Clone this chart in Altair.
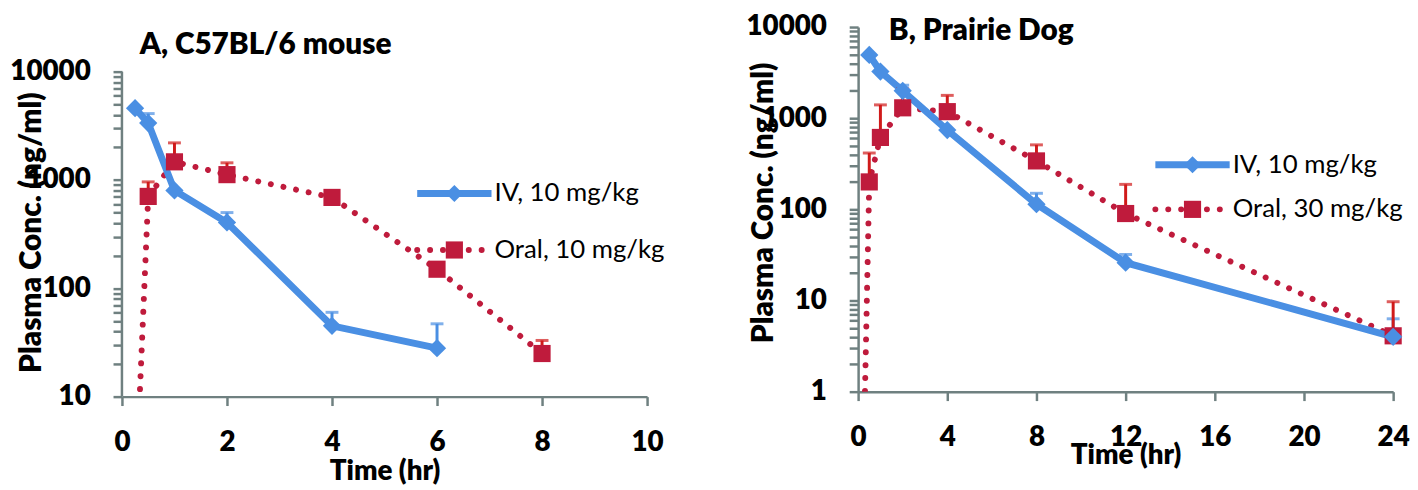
import altair as alt
import pandas as pd

FONT = "Lato"
AX = "#6F8080"
BLUE = "#4A8FE3"
RED = "#BF1B3C"
RED_ERR = "#D01A1A"
HEAVY = 800

# ---------------- Panel A : C57BL/6 mouse ----------------
A_TITLE = "A, C57BL/6 mouse"
A_IV_T = [0.25, 0.5, 1, 2, 4, 6]
A_IV_C = [4600, 3350, 800, 405, 45, 28]
A_IV_ERR_T = [0.5, 2, 4, 6]
A_IV_ERR_UP = [4100, 500, 60, 47]
A_ORAL_T = [0.5, 1, 2, 4, 6, 8]
A_ORAL_C = [705, 1470, 1120, 690, 150, 25]
A_ORAL_ERR_T = [0.5, 1, 2, 8]
A_ORAL_ERR_UP = [960, 2200, 1440, 33]
A_ORAL_T0 = [0.25]
A_ORAL_C0 = [1.0]
A_LEGEND = ["IV, 10 mg/kg", "Oral, 10 mg/kg"]
A_X_TICKS = [0, 2, 4, 6, 8, 10]
A_Y_MAJOR = [10, 100, 1000, 10000]

# ---------------- Panel B : Prairie Dog ----------------
B_TITLE = "B, Prairie Dog"
B_IV_T = [0.5, 1, 2, 4, 8, 12, 24]
B_IV_C = [4950, 3250, 2000, 740, 114, 26, 4.0]
B_IV_ERR_T = [2, 8, 12, 24]
B_IV_ERR_UP = [2300, 150, 32, 6.3]
B_ORAL_T = [0.5, 1, 2, 4, 8, 12, 24]
B_ORAL_C = [200, 615, 1300, 1180, 340, 90, 4.1]
B_ORAL_ERR_T = [0.5, 1, 2, 4, 8, 12, 24]
B_ORAL_ERR_UP = [415, 1400, 2100, 1780, 510, 188, 9.7]
B_ORAL_T0 = [0.25]
B_ORAL_C0 = [0.2]
B_LEGEND = ["IV, 10 mg/kg", "Oral, 30 mg/kg"]
B_X_TICKS = [0, 4, 8, 12, 16, 20, 24]
B_Y_MAJOR = [1, 10, 100, 1000, 10000]

Y_TITLE = "Plasma Conc. (ng/ml)"
X_TITLE = "Time (hr)"


def minor_ticks(majors):
    vals = []
    for m in majors[:-1]:
        vals += [m * k for k in range(1, 10)]
    vals.append(majors[-1])
    return vals


def panel(p):
    xscale = alt.Scale(domain=p["xdom"], nice=False, zero=False)
    yscale = alt.Scale(type="log", domain=p["ydom"], nice=False)
    majors_str = "[" + ",".join("'%d'" % v for v in p["ymajor"]) + "]"
    xaxis = alt.Axis(
        values=p["xticks"], format="d", grid=False,
        labelFont=FONT, labelFontSize=28, labelFontWeight=HEAVY, labelColor="black",
        labelPadding=23, labelFlush=False, labelOverlap=False,
        tickSize=9, tickColor=AX, tickWidth=2.5,
        domainColor=AX, domainWidth=2.5,
        title=X_TITLE, titleFont=FONT, titleFontSize=28, titleFontWeight=HEAVY,
        titleColor="black", titlePadding=p["xtitlepad"],
    )
    yaxis = alt.Axis(
        values=minor_ticks(p["ymajor"]), format="d", grid=False,
        labelExpr="indexof(" + majors_str + ", datum.label) >= 0 ? datum.label : ''",
        labelFont=FONT, labelFontSize=28, labelFontWeight=HEAVY, labelColor="black",
        labelPadding=23, labelOverlap=False, labelFlush=False,
        tickSize=9, tickColor=AX, tickWidth=2.5,
        domain=p["ydomainline"], domainColor=AX, domainWidth=2.5,
        title=Y_TITLE, titleFont=FONT, titleFontSize=30, titleFontWeight=HEAVY,
        titleColor="black", titleX=p["ytitlex"], titleY=p["ytitley"],
    )

    def X(f):
        return alt.X(f, type="quantitative", scale=xscale, axis=xaxis)

    def Y(f):
        return alt.Y(f, type="quantitative", scale=yscale, axis=yaxis)

    iv = pd.DataFrame({"t": p["iv_t"], "c": p["iv_c"]})
    oral = pd.DataFrame({"t": p["oral_t"], "c": p["oral_c"]})
    oral_line = pd.DataFrame({"t": p["oral_t0"] + p["oral_t"], "c": p["oral_c0"] + p["oral_c"]})
    iv_err = pd.DataFrame({"t": p["iv_err_t"], "c": [dict(zip(p["iv_t"], p["iv_c"]))[t] for t in p["iv_err_t"]],
                           "up": p["iv_err_up"]})
    oral_err = pd.DataFrame({"t": p["oral_err_t"],
                             "c": [dict(zip(p["oral_t"], p["oral_c"]))[t] for t in p["oral_err_t"]],
                             "up": p["oral_err_up"]})

    layers = []
    layers.append(alt.Chart(oral_line).mark_line(
        color=RED, strokeWidth=6, strokeDash=[0.01, 13], strokeCap="round", clip=True
    ).encode(x=X("t"), y=Y("c")))
    layers.append(alt.Chart(iv).mark_line(color=BLUE, strokeWidth=7, clip=True).encode(x=X("t"), y=Y("c")))
    for df, col in ((iv_err, BLUE), (oral_err, RED_ERR)):
        layers.append(alt.Chart(df).mark_rule(color=col, strokeWidth=3).encode(
            x=X("t"), y=Y("c"), y2=alt.Y2("up")))
        layers.append(alt.Chart(df).mark_tick(color=col, orient="horizontal", size=13, thickness=3).encode(
            x=X("t"), y=Y("up")))
    layers.append(alt.Chart(oral).mark_point(shape="square", filled=True, size=300, color=RED, opacity=1,
                                             strokeWidth=0).encode(x=X("t"), y=Y("c")))
    layers.append(alt.Chart(iv).mark_point(shape="diamond", filled=True, size=340, color=BLUE, opacity=1,
                                           strokeWidth=0).encode(x=X("t"), y=Y("c")))

    if p.get("axisline") is not None:
        lo, hi = p["axisline"]
        layers.append(alt.Chart(pd.DataFrame({"c": [lo], "c2": [hi]})).mark_rule(
            color=AX, strokeWidth=2.5).encode(x=alt.value(0), y=Y("c"), y2=alt.Y2("c2")))

    # legend (inside plot, Excel style)
    lx0, lx1, tx = p["leg_x"]
    for i, lab in enumerate(p["legend"]):
        ly = p["leg_y"][i]
        d = pd.DataFrame({"label": [lab]})
        if i == 0:
            layers.append(alt.Chart(d).mark_rule(color=BLUE, strokeWidth=7).encode(
                x=alt.value(lx0), x2=alt.value(lx1), y=alt.value(ly)))
            layers.append(alt.Chart(d).mark_point(shape="diamond", filled=True, size=300, color=BLUE,
                                                  opacity=1, strokeWidth=0).encode(
                x=alt.value((lx0 + lx1) / 2), y=alt.value(ly)))
        else:
            layers.append(alt.Chart(d).mark_rule(color=RED, strokeWidth=6, strokeDash=[0.01, 13],
                                                 strokeCap="round").encode(
                x=alt.value(lx0), x2=alt.value(lx1), y=alt.value(ly)))
            layers.append(alt.Chart(d).mark_point(shape="square", filled=True, size=300, color=RED,
                                                  opacity=1, strokeWidth=0).encode(
                x=alt.value((lx0 + lx1) / 2), y=alt.value(ly)))
        layers.append(alt.Chart(d).mark_text(font=FONT, fontSize=26, align="left", baseline="middle",
                                             color="black").encode(
            x=alt.value(tx), y=alt.value(ly), text="label:N"))

    # panel title
    layers.append(alt.Chart(pd.DataFrame({"title": [p["title"]]})).mark_text(
        font=FONT, fontSize=30, fontWeight=HEAVY, align="left", baseline="alphabetic", color="black"
    ).encode(x=alt.value(p["title_xy"][0]), y=alt.value(p["title_xy"][1]), text="title:N"))

    return alt.layer(*layers).properties(width=p["w"], height=p["h"])


A_H = 373
A_PX_PER_DEC = 328 / 3.0
A_YTOP = 10 ** (1 + A_H / A_PX_PER_DEC)

pa = dict(
    title=A_TITLE, iv_t=A_IV_T, iv_c=A_IV_C, iv_err_t=A_IV_ERR_T, iv_err_up=A_IV_ERR_UP,
    oral_t=A_ORAL_T, oral_c=A_ORAL_C, oral_err_t=A_ORAL_ERR_T, oral_err_up=A_ORAL_ERR_UP,
    oral_t0=A_ORAL_T0, oral_c0=A_ORAL_C0, legend=A_LEGEND,
    xdom=[0, 10], xticks=A_X_TICKS, ymajor=A_Y_MAJOR, ydom=[10, A_YTOP],
    ydomainline=False, axisline=(10, 10000),
    ytitlex=-76, ytitley=207, xtitlepad=2,
    leg_x=(298, 373, 376), leg_y=(168, 225), title_xy=(18, 27),
    w=530, h=A_H,
)
pb = dict(
    title=B_TITLE, iv_t=B_IV_T, iv_c=B_IV_C, iv_err_t=B_IV_ERR_T, iv_err_up=B_IV_ERR_UP,
    oral_t=B_ORAL_T, oral_c=B_ORAL_C, oral_err_t=B_ORAL_ERR_T, oral_err_up=B_ORAL_ERR_UP,
    oral_t0=B_ORAL_T0, oral_c0=B_ORAL_C0, legend=B_LEGEND,
    xdom=[0, 24], xticks=B_X_TICKS, ymajor=B_Y_MAJOR, ydom=[1, 10000],
    ydomainline=True, axisline=None,
    ytitlex=-80, ytitley=177, xtitlepad=-9,
    leg_x=(300, 375, 378), leg_y=(139, 184), title_xy=(31, 13),
    w=540, h=368,
)

chart = alt.hconcat(panel(pa), panel(pb), spacing=81).properties(
    padding={"left": 1, "top": 3, "right": 0, "bottom": 0},
    background="white",
).configure_view(stroke=None)

chart.save("out.html", embed_options={"renderer": "svg", "actions": False})
